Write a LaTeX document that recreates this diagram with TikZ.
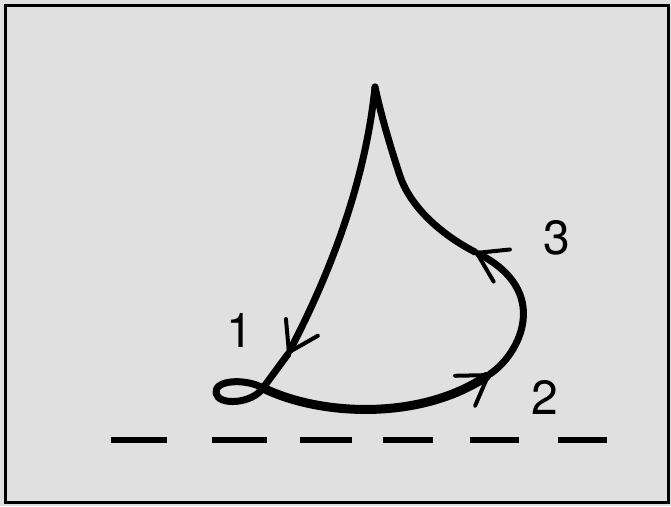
\documentclass[tikz,border=0pt]{standalone}
\usepackage{fontspec}
\setmainfont{TeX Gyre Heros}
\usetikzlibrary{arrows.meta, calc}

\begin{document}
\begin{tikzpicture}[x=1pt, y=1pt,
    stroke/.style={line width=7pt, line cap=round, line join=round},
    tipped/.style={-{Straight Barb[length=28pt, width=36pt, line width=4pt, round]}},
    num/.style={font=\fontsize{48}{50}\selectfont, inner sep=0pt}]
    \useasboundingbox (0,0) rectangle (671,506);
    \fill[black!12] (0,0) rectangle (671,506);
    \draw[line width=3pt] (5,4) rectangle (668,500);

    \coordinate (Top) at (375,419);
    \coordinate (One) at (288,152);
    \coordinate (Cross) at (263,118);
    \coordinate (Two) at (490,132);
    \coordinate (Three) at (475,254);

    % the closed path, cut at the arrows
    \draw[stroke, tipped] (Top) .. controls (366,330) and (334,240) .. (One);
    \draw[stroke] (One) -- (Cross) .. controls (252,102) and (218,100) .. (216,113)
        .. controls (214,126) and (245,128) .. (Cross);
    \draw[stroke, tipped, line width=9pt] (Cross) .. controls (320,90) and (420,85) .. (Two);
    \draw[stroke, tipped] (Two) .. controls (520,152) and (552,215) .. (Three);
    \draw[stroke] (Three) .. controls (440,272) and (410,300) .. (400,330)
        .. controls (390,360) and (380,395) .. (Top);

    \node[num] (L1) at (240,176) {1};
    \node[num] (L2) at (545,109) {2};
    \node[num] (L3) at (557,268) {3};

    % ground line
    \foreach \a/\b in {111/167, 212/267, 300/352, 383/433, 470/519, 558/607}
        \draw[line width=6pt] (\a,66) -- (\b,66);
\end{tikzpicture}
\end{document}
